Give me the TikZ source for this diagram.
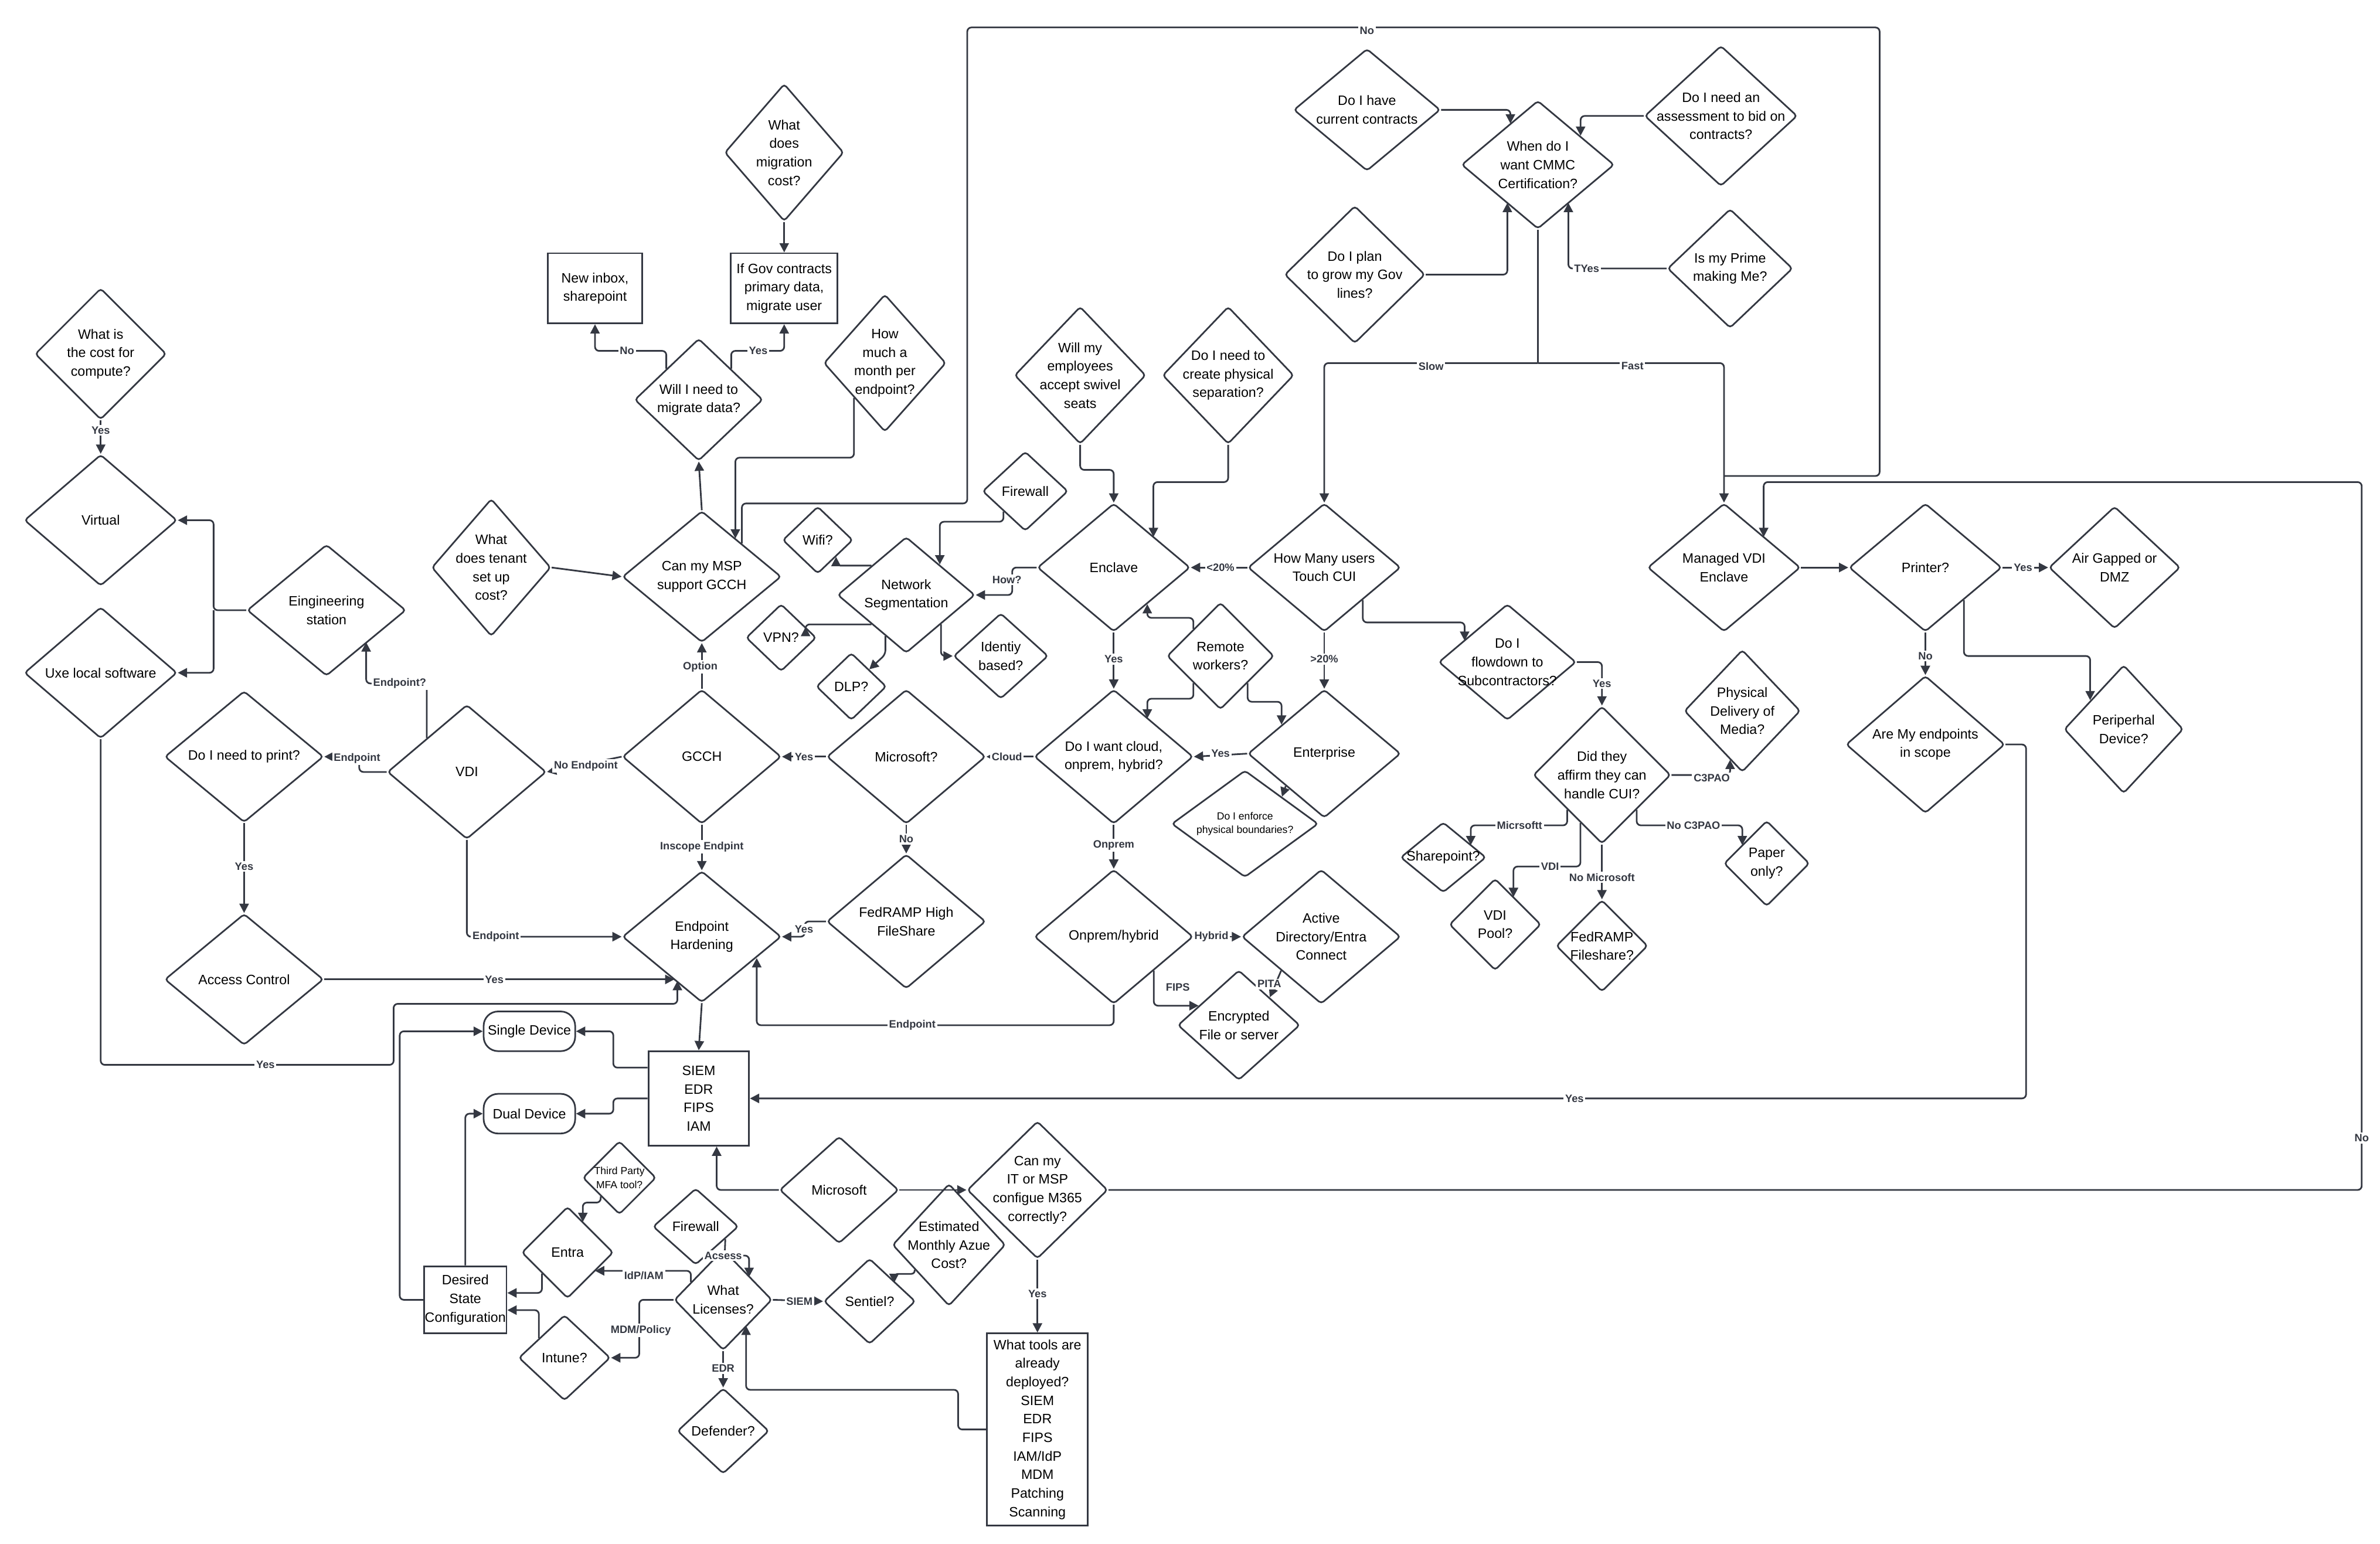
\documentclass[tikz,border=0pt]{standalone}
\usepackage{fontspec}
\setmainfont{Liberation Sans}
\usetikzlibrary{shapes.geometric,arrows.meta,calc}
\definecolor{ln}{RGB}{52,56,66}
\def\uu{0.026cm}
\tikzset{
 dia/.style={diamond,draw=ln,line width=0.8pt,rounded corners=1.5pt,inner sep=0pt},
 box/.style={rectangle,draw=ln,line width=0.8pt,inner sep=0pt},
 rbox/.style={rectangle,draw=ln,line width=0.8pt,inner sep=0pt,rounded corners=7pt},
 txt/.style={align=center,inner sep=0pt,font=\fontsize{6.6}{9}\selectfont},
 sm/.style={font=\fontsize{5}{6.6}\selectfont},
 lab/.style={fill=white,inner sep=0.8pt,font=\bfseries\fontsize{5.2}{6}\selectfont,text=ln},
 c/.style={draw=ln,line width=0.8pt,rounded corners=2pt},
 a/.style={c,-{Triangle[width=4.5pt,length=4.5pt]}}
}
\newcommand\D[6][]{\node[dia,minimum width=#4*\uu,minimum height=#5*\uu] (#2) at (#3) {};\node[txt,#1] (#2-t) at (#2) {#6};}
\newcommand\B[6][box]{\node[#1,minimum width=#4*\uu,minimum height=#5*\uu] (#2) at (#3) {};\node[txt] (#2-t) at (#2) {#6};}
\begin{document}
\begin{tikzpicture}[x=0.026cm,y=-0.026cm]
\useasboundingbox (0,0) rectangle (1560,1012);
% nodes
\D{cur}{896,72}{96}{80}{Do I have\\current contracts}
\D{when}{1008,108}{100}{84}{When do I\\want CMMC\\Certification?}
\D{assess}{1128,76}{100}{92}{Do I need an\\assessment to bid on\\contracts?}
\D{grow}{888,180}{92}{90}{Do I plan\\to grow my Gov\\lines?}
\D{prime}{1134,176}{82}{78}{Is my Prime\\making Me?}
\D{mcost}{514,100}{78}{90}{What\\does\\migration\\cost?}
\B{inbox}{390,189}{62}{46}{New inbox,\\sharepoint}
\B{gov}{514,189}{70}{46}{If Gov contracts\\primary data,\\migrate user}
\D{migr}{458,262}{84}{80}{Will I need to\\migrate data?}
\D{month}{580,238}{80}{90}{How\\much a\\month per\\endpoint?}
\D{compute}{66,232}{86}{86}{What is\\the cost for\\compute?}
\D{virt}{66,341}{100}{86}{Virtual}
\D{uxe}{66,441}{100}{86}{Uxe local software}
\D{eng}{214,400}{104}{86}{Eingineering\\station}
\D{tenant}{322,372}{78}{90}{What\\does tenant\\set up\\cost?}
\D{msp}{460,378}{104}{86}{Can my MSP\\support GCCH}
\D{fwa}{672,322}{56}{52}{Firewall}
\D{wifi}{536,354}{46}{44}{Wifi?}
\D{ns}{594,390}{90}{76}{Network\\Segmentation}
\D{vpn}{512,418}{46}{44}{VPN?}
\D{dlp}{558,450}{46}{44}{DLP?}
\D{ident}{656,430}{62}{56}{Identiy\\based?}
\D{swivel}{708,246}{86}{90}{Will my\\employees\\accept swivel\\seats}
\D{phys}{805,246}{86}{90}{Do I need to\\create physical\\separation?}
\D{encl}{730,372}{100}{84}{Enclave}
\D{howmany}{868,372}{100}{84}{How Many users\\Touch CUI}
\D{remote}{800,430}{70}{70}{Remote\\workers?}
\D{flow}{988,434}{90}{76}{Do I\\flowdown to\\Subcontractors?}
\D{print}{160,496}{104}{86}{Do I need to print?}
\D{vdi}{306,506}{104}{88}{VDI}
\D{gcch}{460,496}{104}{88}{GCCH}
\D{msa}{594,496}{104}{88}{Microsoft?}
\D{cloud}{730,496}{104}{88}{Do I want cloud,\\onprem, hybrid?}
\D{ent}{868,494}{100}{84}{Enterprise}
\D[sm]{enforce}{816,540}{96}{70}{Do I enforce\\physical boundaries?}
\D{access}{160,642}{104}{86}{Access Control}
\D{eh}{460,614}{104}{86}{Endpoint\\Hardening}
\D{fedr}{594,604}{104}{88}{FedRAMP High\\FileShare}
\D{onp}{730,614}{104}{88}{Onprem/hybrid}
\D{ad}{866,614}{104}{88}{Active\\Directory/Entra\\Connect}
\D{enc}{812,672}{80}{72}{Encrypted\\File or server}
\D{mvdi}{1130,372}{100}{84}{Managed VDI\\Enclave}
\D{prn}{1262,372}{100}{84}{Printer?}
\D{air}{1386,372}{86}{80}{Air Gapped or\\DMZ}
\D{scope}{1262,488}{104}{90}{Are My endpoints\\in scope}
\D{peri}{1392,478}{78}{84}{Periperhal\\Device?}
\D{did}{1050,508}{90}{90}{Did they\\affirm they can\\handle CUI?}
\D{pdm}{1142,466}{76}{80}{Physical\\Delivery of\\Media?}
\D{paper}{1158,566}{56}{56}{Paper\\only?}
\D{fedfs}{1050,620}{60}{60}{FedRAMP\\Fileshare?}
\D{vpool}{980,606}{60}{60}{VDI\\Pool?}
\D{sp}{946,562}{56}{46}{Sharepoint?}
\B[rbox]{single}{347,676}{60}{26}{Single Device}
\B[rbox]{dual}{347,730}{60}{26}{Dual Device}
\B{siem}{458,720}{66}{62}{SIEM\\EDR\\FIPS\\IAM}
\B{dsc}{305,852}{54}{44}{Desired\\State\\Configuration}
\D{msb}{550,780}{78}{70}{Microsoft}
\D{itq}{680,780}{92}{90}{Can my\\IT or MSP\\configue M365\\correctly?}
\B{tools}{680,937}{66}{126}{What tools are\\already\\deployed?\\SIEM\\EDR\\FIPS\\IAM/IdP\\MDM\\Patching\\Scanning}
\D[sm]{mfa}{406,772}{48}{48}{Third Party\\MFA tool?}
\D{entra}{372,821}{60}{60}{Entra}
\D{fwb}{456,804}{56}{50}{Firewall}
\D{lic}{474,852}{64}{66}{What\\Licenses?}
\D{sent}{570,853}{60}{56}{Sentiel?}
\D{est}{622,816}{74}{80}{Estimated\\Monthly Azue\\Cost?}
\D{intune}{370,890}{60}{56}{Intune?}
\D{def}{474,938}{60}{56}{Defender?}
% connectors top
\draw[a] (cur.east) -| (990,81);
\draw[a] (assess.west) -| (1036,89);
\draw[a] (grow.east) -| (988,133);
\draw[a] (prime.west) -| (1028,133);
\node[lab] (l1) at (1040,176) {TYes};
\draw[c] (when.south) -- (1008,238);
\draw[a] (1008,238) -| (howmany.north);
\draw[a] (1008,238) -| (mvdi.north);
\node[lab] (l2) at (938,240) {Slow};
\node[lab] (l3) at (1070,240) {Fast};
\draw[c] (msp.north east) |- (634,330) -- (634,18) -- (1232,18) -- (1232,312) -- (1130,312);
\node[lab] (l4) at (896,20) {No};
\draw[a] (month.south west) |- (482,300) -- (482,353);
\draw[a] (msp.north) -- (migr.south);
\draw[a] (migr.north west) |- (390,230) -- (inbox.south);
\draw[a] (migr.north east) |- (514,230) -- (gov.south);
\node[lab] (l5) at (411,230) {No};
\node[lab] (l6) at (497,230) {Yes};
\draw[a] (mcost.south) -- (gov.north);
\draw[a] (compute.south) -- (virt.north);
\node[lab] (l7) at (66,282) {Yes};
\draw[a] (eng.west) -- (140,400) |- (virt.east);
\draw[a] (140,400) |- (uxe.east);
\draw[a] (vdi.north west) |- (240,448) -- (240,421);
\node[lab] (l8) at (262,448) {Endpoint?};
\draw[a] (vdi.west) -- ++(-18,0) |- (print.east);
\node[lab] (l9) at (234,497) {Endpoint};
\draw[a] (print.south) -- (access.north);
\node[lab] (l10) at (160,568) {Yes};
\draw[a] (access.east) -- (442,642);
\node[lab] (l11) at (324,642) {Yes};
\draw[a] (uxe.south) -- (66,698) -- (258,698) -- (258,658) -- (444,658) -- (444,643);
\node[lab] (l12) at (174,698) {Yes};
\draw[a] (vdi.south) |- (eh.west);
\node[lab] (l13) at (325,614) {Endpoint};
\draw[a] (gcch.west) -- (vdi.east);
\node[lab] (l14) at (384,502) {No Endpoint};
\draw[a] (gcch.north) -- (msp.south);
\node[lab] (l15) at (459,437) {Option};
\draw[a] (gcch.south) -- (eh.north);
\node[lab] (l16) at (460,555) {Inscope Endpint};
\draw[a] (msa.west) -- (gcch.east);
\node[lab] (l17) at (527,496) {Yes};
\draw[a] (msa.south) -- (fedr.north);
\node[lab] (l18) at (594,550) {No};
\draw[a] (fedr.west) -- ++(-14,0) |- (eh.east);
\node[lab] (l19) at (527,609) {Yes};
\draw[a] (cloud.west) -- (msa.east);
\node[lab] (l20) at (660,496) {Cloud};
\draw[a] (cloud.south) -- (onp.north);
\node[lab] (l21) at (730,554) {Onprem};
\draw[a] (onp.east) -- (ad.west);
\node[lab] (l22) at (794,614) {Hybrid};
\draw[a] (onp.south east) |- ($(enc.west)!0.35!(enc.north)$);
\node[lab] (l23) at (772,647) {FIPS};
\draw[a] (ad.south west) -- (enc.north east);
\node[lab] (l24) at (832,645) {PITA};
\draw[a] (onp.south) -- (730,672) -- (496,672) -- (496,628);
\node[lab] (l25) at (598,672) {Endpoint};
\draw[a] (encl.west) -- ++(-16,0) |- (ns.east);
\node[lab] (l26) at (660,380) {How?};
\draw[a] (encl.south) -- (cloud.north);
\node[lab] (l27) at (730,432) {Yes};
\draw[a] (swivel.south) -- (708,308) -| (encl.north);
\draw[a] (phys.south) -- (805,316) -| (756,352);
\draw[a] (howmany.west) -- (encl.east);
\node[lab] (l28) at (800,372) {<20\%};
\draw[a] (howmany.south) -- (ent.north);
\node[lab] (l29) at (868,432) {>20\%};
\draw[a] (howmany.south east) |- (960,408) -- (960,420);
\draw[a] (ent.west) -- (cloud.east);
\node[lab] (l30) at (800,494) {Yes};
\draw[a] (remote.north west) |- (752,405) -- (752,396);
\draw[a] (remote.south west) |- (752,458) -- (752,471);
\draw[a] (remote.south east) |- (840,460) -- (840,475);
\draw[a] (ent.south west) -- (enforce.north east);
\draw[a] (fwa.south west) |- (616,342) -- (616,370);
\draw[a] (ns.north west) -| (548,365);
\draw[a] (ns.south west) -| (528,411);
\draw[a] ($(ns.south)!0.3!(ns.west)$) -- ++(0,12) -- (dlp.north east);
\draw[a] ($(ns.south)!0.5!(ns.east)$) |- (ident.west);
\draw[a] (mvdi.east) -- (prn.west);
\draw[a] (prn.east) -- (air.west);
\node[lab] (l31) at (1326,372) {Yes};
\draw[a] (prn.south) -- (scope.north);
\node[lab] (l32) at (1262,430) {No};
\draw[a] (prn.south east) |- (1370,430) -- (1370,459);
\draw[a] (scope.east) -- (1328,488) |- (siem.east);
\node[lab] (l33) at (1032,720) {Yes};
\draw[a] (flow.east) -| (did.north);
\node[lab] (l34) at (1050,448) {Yes};
\draw[a] (did.east) -| (1134,498);
\node[lab] (l35) at (1122,510) {C3PAO};
\draw[a] (did.south east) |- (1142,541) -- (1142,554);
\node[lab] (l36) at (1110,541) {No C3PAO};
\draw[a] (did.south) -- (fedfs.north);
\node[lab] (l37) at (1050,575) {No Microsoft};
\draw[a] ($(did.south)!0.31!(did.west)$) |- (992,568) -- (992,588);
\node[lab] (l38) at (1016,568) {VDI};
\draw[a] (did.south west) |- (964,541) -- (964,554);
\node[lab] (l39) at (996,541) {Micrsoftt};
% bottom
\draw[a] (eh.south) -- (siem.north);
\draw[a] ($(siem.north west)!0.18!(siem.south west)$) -| (402,676) -- (single.east);
\draw[a] (siem.west) -| (402,730) -- (dual.east);
\draw[a] (dsc.west) -- (262,852) |- (single.west);
\draw[a] (dsc.north) |- (dual.west);
\draw[a] (msb.west) -| ($(siem.south)!0.35!(siem.south east)$);
\draw[a] (msb.east) -- (itq.west);
\draw[a] (itq.east) -- (1548,780) |- (1156,316) -- (1156,352);
\node[lab] (l40) at (1548,746) {No};
\draw[a] (itq.south) -- (tools.north);
\node[lab] (l41) at (680,848) {Yes};
\draw[a] (tools.west) -- (628,937) |- (489,911) -- (489,869);
\draw[a] (mfa.south west) -- ++(0,4) -| (382,801);
\draw[a] ($(fwb.east)!0.32!(fwb.south)$) -- (475,823) -- (491,823) -- (491,837);
\node[lab] (l42) at (474,823) {Acsess};
\draw[a] ($(lic.west)!0.35!(lic.north)$) |- (390,833);
\node[lab] (l43) at (422,836) {IdP/IAM};
\draw[a] (lic.west) -- (419,852) |- (intune.east);
\node[lab] (l44) at (420,872) {MDM/Policy};
\draw[a] ($(entra.south)!0.55!(entra.west)$) |- ($(dsc.north east)!0.4!(dsc.south east)$);
\draw[a] ($(intune.north)!0.55!(intune.west)$) |- ($(dsc.north east)!0.65!(dsc.south east)$);
\draw[a] (lic.east) -- (sent.west);
\node[lab] (l45) at (524,853) {SIEM};
\draw[a] ($(est.south)!0.6!(est.west)$) -- (600,835) -- (586,835) -- (586,841);
\draw[a] (lic.south) -- (def.north);
\node[lab] (l46) at (474,897) {EDR};
\draw[a] (tenant.east) -- (msp.west);
\end{tikzpicture}
\end{document}
